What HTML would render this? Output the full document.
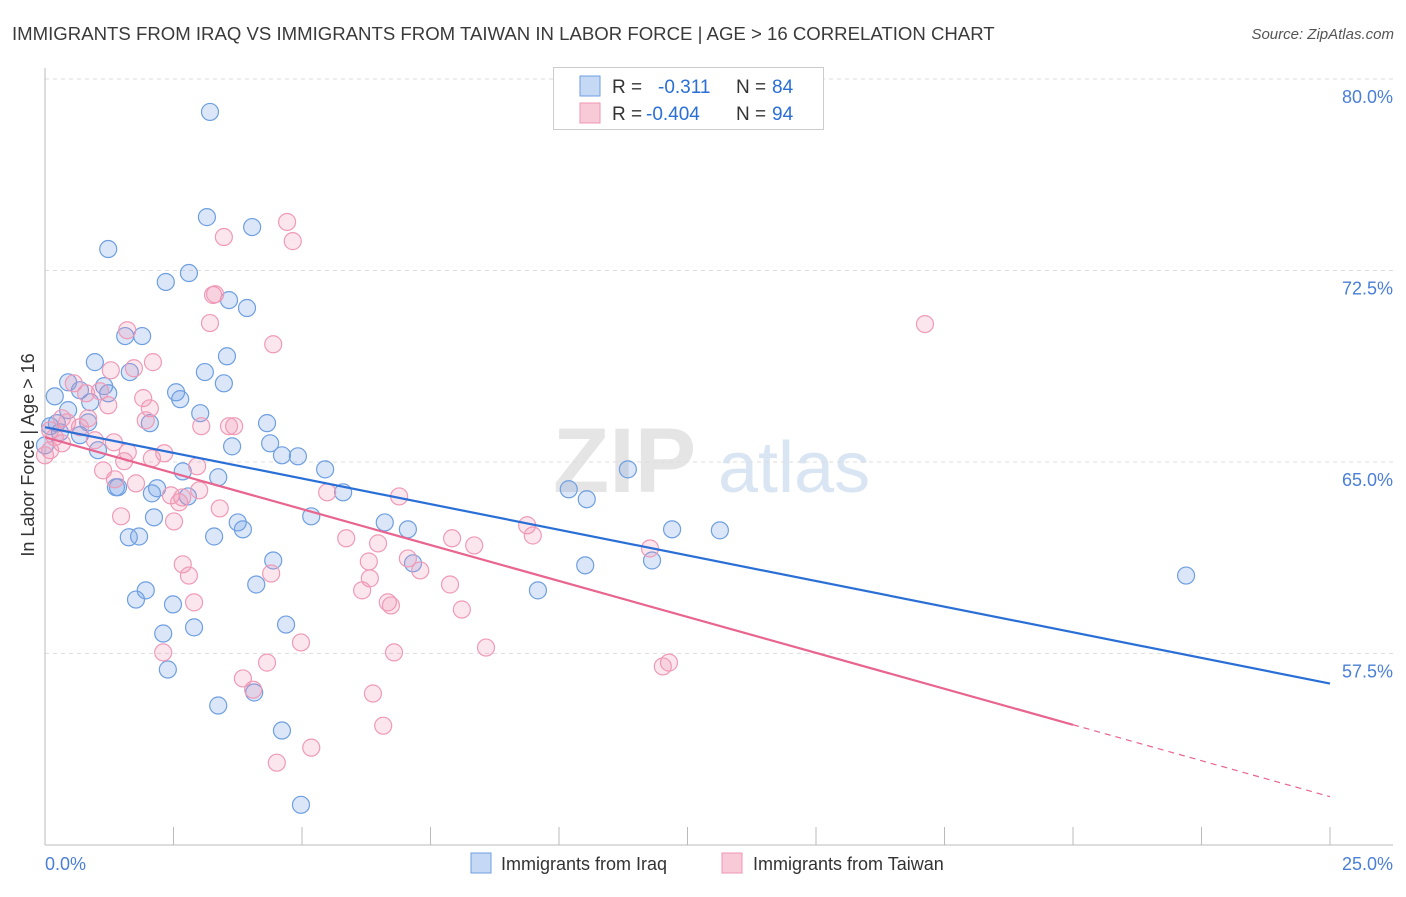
<!DOCTYPE html>
<html><head><meta charset="utf-8"><style>
body{margin:0;background:#fff;font-family:"Liberation Sans",sans-serif}
svg text{font-family:"Liberation Sans",sans-serif}
</style></head><body>
<svg id="c" width="1406" height="892">
<text x="12" y="40" font-size="18.6" fill="#3a3a3a">IMMIGRANTS FROM IRAQ VS IMMIGRANTS FROM TAIWAN IN LABOR FORCE | AGE &gt; 16 CORRELATION CHART</text>
<text x="1394" y="39" font-size="15" fill="#555" font-style="italic" text-anchor="end">Source: ZipAtlas.com</text>
<g opacity="0.5">
<text x="553" y="492" font-size="92" font-family="Liberation Serif" fill="#ccc" font-weight="bold">ZIP</text>
<text x="718" y="492" font-size="72" fill="#b5cde8">atlas</text>
</g>
<g id="grid"></g><g id="axes"></g><g id="pts"></g><g id="lines"></g>
<text x="-455" y="34" transform="rotate(-90)" font-size="18" fill="#333" text-anchor="middle">In Labor Force | Age &gt; 16</text>
<text x="45" y="870" font-size="18" fill="#4a7fd6">0.0%</text>
<text x="1393" y="870" font-size="18" fill="#4a7fd6" text-anchor="end">25.0%</text>
<g>
<rect x="553.5" y="67.5" width="270" height="62" fill="#fff" stroke="#ccc"/>
<rect x="580" y="76" width="20" height="20" fill="#c5d9f5" stroke="#6e9fe0"/>
<rect x="580" y="103" width="20" height="20" fill="#f8cad8" stroke="#ee95b3"/>
<text x="612" y="93" font-size="19" fill="#333">R = </text><text x="658" y="93" font-size="19" fill="#2a6fd6">-0.311</text>
<text x="736" y="93" font-size="19" fill="#333">N = </text><text x="772" y="93" font-size="19" fill="#2a6fd6">84</text>
<text x="612" y="120" font-size="19" fill="#333">R = </text><text x="646" y="120" font-size="19" fill="#2a6fd6">-0.404</text>
<text x="736" y="120" font-size="19" fill="#333">N = </text><text x="772" y="120" font-size="19" fill="#2a6fd6">94</text>
</g>
<g>
<rect x="471" y="853" width="20" height="20" fill="#c5d9f5" stroke="#6e9fe0"/>
<text x="501" y="870" font-size="18" fill="#333">Immigrants from Iraq</text>
<rect x="722" y="853" width="20" height="20" fill="#f8cad8" stroke="#ee95b3"/>
<text x="753" y="870" font-size="18" fill="#333">Immigrants from Taiwan</text>
</g>
</svg>
<script>
const yTicks=[80,72.5,65,57.5];
const yTickLabels=["80.0%","72.5%","65.0%","57.5%"];
const xTickVals=[0,2.5,5,7.5,10,12.5,15,17.5,20,22.5,25];
const iraqX=[3.21,3.15,4.03,1.23,2.80,2.35,3.58,3.93,1.56,1.89,0.97,3.54,3.11,3.48,0.45,1.65,1.15,0.68,1.23,2.55,2.63,0.88,0.45,0.19,3.02,4.32,2.04,0.23,4.38,3.64,1.03,4.61,4.92,2.68,5.45,3.37,11.34,1.38,1.42,2.18,2.08,5.80,2.78,10.19,10.54,2.12,5.18,3.75,6.61,3.85,7.06,3.29,1.63,1.83,12.20,13.13,4.44,7.16,10.51,11.81,22.20,1.96,4.11,1.77,2.49,9.59,2.30,2.90,4.69,2.39,3.37,4.07,4.61,4.98,0.10,0.29,0.00,0.68,0.84];
const iraqY=[78.71,74.59,74.20,73.34,72.40,72.05,71.34,71.03,69.93,69.93,68.91,69.14,68.52,68.08,68.12,68.52,67.97,67.81,67.69,67.73,67.46,67.34,67.03,67.57,66.91,66.52,66.52,66.52,65.73,65.61,65.46,65.26,65.22,64.63,64.71,64.40,64.71,64.01,64.01,63.97,63.77,63.81,63.65,63.93,63.54,62.83,62.87,62.63,62.63,62.36,62.36,62.08,62.05,62.08,62.36,62.32,61.14,61.03,60.95,61.14,60.55,59.97,60.20,59.61,59.42,59.97,58.28,58.52,58.63,56.87,55.46,55.97,54.48,51.57,66.40,66.16,65.65,66.05,66.55];
const taiwanX=[4.71,4.82,3.48,3.27,3.31,17.12,1.60,3.21,4.44,2.10,1.73,1.28,0.56,1.07,0.80,1.91,2.04,1.23,1.96,0.33,0.84,3.68,3.58,3.04,0.97,1.34,0.33,0.10,0.00,2.08,1.54,2.32,1.61,2.96,1.13,1.36,1.77,3.00,2.45,2.67,5.49,6.89,2.61,3.40,1.48,2.51,9.38,9.49,5.86,6.48,7.92,8.35,7.06,11.77,2.68,6.30,2.80,4.40,6.32,7.30,6.17,7.88,6.67,6.73,2.90,8.11,4.98,2.30,6.79,8.58,4.32,12.14,12.02,3.85,4.05,6.38,6.58,5.18,4.51,0.10,0.19,0.43,0.68];
const taiwanY=[74.40,73.65,73.81,71.54,71.57,70.40,70.16,70.44,69.61,68.91,68.67,68.59,68.08,67.77,67.69,67.50,67.10,67.22,66.63,66.71,66.71,66.40,66.40,66.40,65.85,65.77,65.73,65.46,65.26,65.14,65.03,65.34,65.38,64.83,64.67,64.32,64.16,63.89,63.69,63.61,63.81,63.65,63.42,63.18,62.87,62.67,62.52,62.12,62.01,61.81,62.01,61.73,61.22,61.61,60.99,61.10,60.55,60.63,60.44,60.75,59.97,60.20,59.50,59.38,59.50,59.22,57.93,57.54,57.54,57.73,57.14,57.14,56.99,56.52,56.08,55.93,54.67,53.81,53.22,66.24,65.97,66.55,66.36];
const iraqTrend=[66.36,56.32];
const taiwanTrend=[65.97,51.89];
const taiwanSolidEnd=20;

const NS="http://www.w3.org/2000/svg";
const X=v=>45+v*51.4, Y=v=>79+(80-v)*25.53;
function mk(tag,attrs,parent){const e=document.createElementNS(NS,tag);for(const k in attrs)e.setAttribute(k,attrs[k]);document.getElementById(parent).appendChild(e);return e;}
yTicks.forEach((t,i)=>{
  const l=mk('line',{x1:45,x2:1393,y1:Y(t),y2:Y(t),stroke:'#ddd','stroke-dasharray':'4,4'},'grid');
  
  
  const tx=mk('text',{x:1393,y:Y(t)+24,'font-size':18,fill:'#4a7fd6','text-anchor':'end'},'grid');
  tx.textContent=yTickLabels[i];
  
  
});
const ax=mk('line',{x1:45,x2:45,y1:68,y2:845,stroke:'#bbb'},'axes');


const bx=mk('line',{x1:45,x2:1393,y1:845,y2:845,stroke:'#bbb'},'axes');


xTickVals.forEach(v=>{
  const t=mk('line',{x1:X(v),x2:X(v),y1:827,y2:845,stroke:'#bbb'},'axes');
  
  
});
function pts(xs,ys,fill,stroke,name){
  xs.forEach((x,i)=>{
    const c=mk('circle',{cx:X(x),cy:Y(ys[i]),r:8.5,fill:fill,stroke:stroke,'stroke-width':1.2},'pts');
    
    
  });
}
pts(iraqX,iraqY,'rgba(110,160,230,0.25)','#6e9fe0','iraq-point');
pts(taiwanX,taiwanY,'rgba(240,140,175,0.22)','#ef9ab7','taiwan-point');
const bl=mk('line',{x1:X(0),y1:Y(iraqTrend[0]),x2:X(25),y2:Y(iraqTrend[1]),stroke:'#2a6fd6','stroke-width':2.2},'lines');


const pyAt=v=>taiwanTrend[0]+(taiwanTrend[1]-taiwanTrend[0])*v/25;
const pl=mk('line',{x1:X(0),y1:Y(taiwanTrend[0]),x2:X(taiwanSolidEnd),y2:Y(pyAt(taiwanSolidEnd)),stroke:'#e8658f','stroke-width':2.2},'lines');


const pd=mk('line',{x1:X(taiwanSolidEnd),y1:Y(pyAt(taiwanSolidEnd)),x2:X(25),y2:Y(taiwanTrend[1]),stroke:'#e8658f','stroke-width':1.2,'stroke-dasharray':'6,5'},'lines');


</script>
</body></html>
